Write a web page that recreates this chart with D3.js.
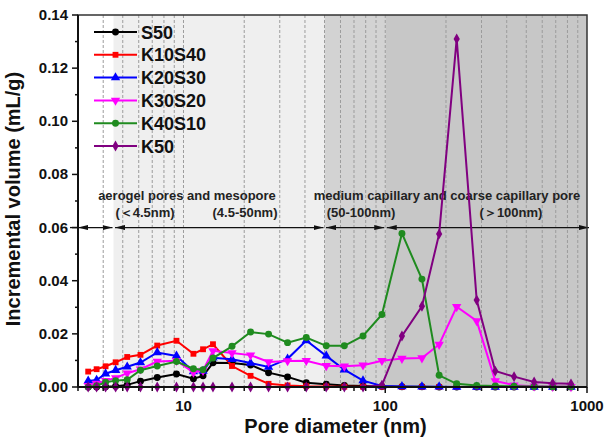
<!DOCTYPE html>
<html><head><meta charset="utf-8">
<script src="https://cdn.jsdelivr.net/npm/d3@7"></script>
<style>body{margin:0;background:#fff}svg{display:block}</style>
</head><body><svg id="c" width="604" height="438"></svg>
<script>
// ---- data ----
const poreDiameter = [3.37,3.71,4.11,4.61,5.26,6.12,7.41,9.23,11.2,12.5,14.0,17.4,21.5,26.4,32.8,40.6,51.0,62.7,77.6,96.3,121,152,185,226,284,351,435,547,676,833];
const S50    = [0,0,0.0001,0.0003,0.0008,0.0022,0.0036,0.0049,0.0031,0.0042,0.0091,0.0090,0.0083,0.0054,0.0038,0.0016,0.0010,0.0006,0.0004,0.0002,0.0001,0.0001,0,0,0,0,0,0,0,0];
const K10S40 = [0.0058,0.0067,0.0078,0.0093,0.0113,0.0121,0.0156,0.0174,0.0125,0.0142,0.0161,0.0079,0.0042,0.0012,0.0006,0.0003,0.0002,0.0001,0.0001,0.0001,0,0,0,0,0,0,0,0,0,0];
const K20S30 = [0.0023,0.0026,0.0050,0.0063,0.0076,0.0092,0.0130,0.0117,0.0058,0.0060,0.0110,0.0104,0.0090,0.0075,0.0106,0.0175,0.0117,0.0065,0.0024,0.0004,0.0002,0.0001,0.0001,0,0,0,0,0,0,0];
const K30S20 = [0.0005,0.0013,0.0024,0.0034,0.0052,0.0067,0.0096,0.0099,0.0055,0.0062,0.0136,0.0128,0.0120,0.0094,0.0098,0.0099,0.0080,0.0078,0.0082,0.0099,0.0107,0.0109,0.0160,0.0302,0.0249,0.0023,0.0007,0.0003,0.0002,0.0001];
const K40S10 = [0,0.0005,0.0018,0.0024,0.0027,0.0063,0.0079,0.0096,0.0069,0.0065,0.0109,0.0153,0.0207,0.0199,0.0167,0.0186,0.0155,0.0155,0.0192,0.0273,0.0578,0.0406,0.0044,0.0012,0.0006,0.0004,0.0003,0.0002,0.0001,0.0001];
const K50    = [0,0,0,0,0,0,0,0,0,0,0,0,0,0,0,0,0,0,0,0.0007,0.0192,0.0304,0.0576,0.1310,0.0327,0.0060,0.0039,0.0019,0.0014,0.0012];
const seriesNames = ["S50","K10S40","K20S30","K30S20","K40S10","K50"];
const seriesValues = [S50,K10S40,K20S30,K30S20,K40S10,K50];
const seriesColors = ["#000000","#ff0000","#0000ff","#ff00ff","#1f8b1f","#800080"];
const seriesSymbols = [d3.symbolCircle,d3.symbolSquare,d3.symbolTriangle,"tri-down",d3.symbolCircle,d3.symbolDiamond];
const yTicks = [0,0.02,0.04,0.06,0.08,0.10,0.12,0.14];
const xTickLabels = [10,100,1000];
const regionBounds = [3,4.5,50,100,1000];
const regionFills = ["#ffffff","#efefef","#d3d3d3","#c7c7c7"];
const regionTexts = [
  {t:"aerogel pores and mesopore", x:187, row:0},
  {t:"(\uFF1C4.5nm)", x:145, row:1},
  {t:"(4.5-50nm)", x:245, row:1},
  {t:"medium capillary and coarse capillary pore", x:447, row:0},
  {t:"(50-100nm)", x:361, row:1},
  {t:"(\uFF1E100nm)", x:511, row:1}
];

// ---- layout ----
const L=78, R=587, T=15, B=387;
const svg = d3.select("#c");
const font = "'Liberation Sans', Arial, sans-serif";
const x = d3.scaleLog().domain([3,1000]).range([L,R]);
const y = d3.scaleLinear().domain([0,0.14]).range([B,T]);

// backgrounds
for (let i=0;i<regionFills.length;i++){
  svg.append("rect").attr("x",x(regionBounds[i])).attr("y",T)
    .attr("width",x(regionBounds[i+1])-x(regionBounds[i])).attr("height",B-T)
    .attr("fill",regionFills[i]);
}
// log grid (dashed)
const logTicks=[];
for (let e=0;e<3;e++) for (let k=1;k<10;k++){ const v=k*Math.pow(10,e); if(v>3 && v<1000) logTicks.push(v);}
svg.append("g").selectAll("line").data(logTicks).join("line")
  .attr("x1",d=>x(d)).attr("x2",d=>x(d)).attr("y1",T).attr("y2",B)
  .attr("stroke","#9c9c9c").attr("stroke-width",1).attr("stroke-dasharray","3,2");

// arrows at 0.06
const defs = svg.append("defs");
defs.append("marker").attr("id","ah").attr("viewBox","0 0 10 5").attr("refX",10).attr("refY",2.5)
  .attr("markerWidth",10).attr("markerHeight",5).attr("markerUnits","userSpaceOnUse").attr("orient","auto-start-reverse")
  .append("path").attr("d","M0,0L10,2.5L0,5Z").attr("fill","#111");
const ya = y(0.06);
for (let i=0;i<regionBounds.length-1;i++){
  const x1 = x(regionBounds[i]) + (i===0?0:1.5), x2 = x(regionBounds[i+1]) - (i===regionBounds.length-2? -2 : 1);
  svg.append("line").attr("x1",x1).attr("x2",x2).attr("y1",ya).attr("y2",ya)
    .attr("stroke","#111").attr("stroke-width",1.3)
    .attr("marker-start","url(#ah)").attr("marker-end","url(#ah)");
}
svg.append("line").attr("x1",L-8).attr("x2",L).attr("y1",ya).attr("y2",ya).attr("stroke","#111").attr("stroke-width",1.3);

// region texts
svg.append("g").selectAll("text").data(regionTexts).join("text")
  .attr("x",d=>d.x).attr("y",d=>d.row===0?199.5:216.5).attr("text-anchor","middle")
  .attr("font-family",font).attr("font-weight","bold").attr("font-size",13).attr("fill","#222")
  .text(d=>d.t);

// series
const line = d3.line().x((d,i)=>x(poreDiameter[i])).y(d=>y(d));
function symPath(s, size){
  if (s==="tri-down") return d3.symbol(d3.symbolTriangle,size)() ;
  return d3.symbol(s,size)();
}
seriesValues.forEach((vals,si)=>{
  const g = svg.append("g");
  g.append("path").attr("d",line(vals)).attr("fill","none").attr("stroke",seriesColors[si]).attr("stroke-width",2);
  const sz = seriesSymbols[si]===d3.symbolSquare?34:(seriesSymbols[si]===d3.symbolDiamond?34:38);
  g.selectAll("path.m").data(vals).join("path").attr("class","m")
    .attr("d",symPath(seriesSymbols[si],sz))
    .attr("transform",(d,i)=>`translate(${x(poreDiameter[i])},${y(d)})`+(seriesSymbols[si]==="tri-down"?" rotate(180)":""))
    .attr("fill",seriesColors[si]);
});

// frame
svg.append("rect").attr("x",L).attr("y",T).attr("width",R-L).attr("height",B-T)
  .attr("fill","none").attr("stroke","#333").attr("stroke-width",1.5);

// y axis
const ya2 = svg.append("g").attr("transform",`translate(${L},0)`);
ya2.append("line").attr("x1",0).attr("x2",0).attr("y1",T).attr("y2",B).attr("stroke","#111").attr("stroke-width",2);
const yMinor = d3.range(1,14,2).map(k=>k*0.01);
ya2.selectAll("line.mn").data(yMinor).join("line").attr("class","mn")
  .attr("x1",-3).attr("x2",0).attr("y1",d=>y(d)).attr("y2",d=>y(d)).attr("stroke","#111").attr("stroke-width",1.5);
ya2.selectAll("line.mj").data(yTicks).join("line").attr("class","mj")
  .attr("x1",-6).attr("x2",0).attr("y1",d=>y(d)).attr("y2",d=>y(d)).attr("stroke","#111").attr("stroke-width",1.5);
ya2.selectAll("text").data(yTicks).join("text")
  .attr("x",-10).attr("y",d=>y(d)+5).attr("text-anchor","end")
  .attr("font-family",font).attr("font-weight","bold").attr("font-size",15).attr("fill","#111")
  .text(d=>d3.format(".2f")(d));

// x axis
const xa = svg.append("g").attr("transform",`translate(0,${B})`);
xa.append("line").attr("x1",L).attr("x2",R).attr("stroke","#111").attr("stroke-width",2);
const xAll = [3].concat(logTicks).concat([1000]);
xa.selectAll("line.t").data(xAll).join("line").attr("class","t")
  .attr("x1",d=>x(d)).attr("x2",d=>x(d)).attr("y1",0).attr("y2",d=>xTickLabels.includes(d)?6:4)
  .attr("stroke","#111").attr("stroke-width",1.5);
xa.selectAll("text").data(xTickLabels).join("text")
  .attr("x",d=>x(d)).attr("y",24).attr("text-anchor","middle")
  .attr("font-family",font).attr("font-weight","bold").attr("font-size",15).attr("fill","#111")
  .text(d=>d);

// axis titles
svg.append("text").attr("x",(L+R)/2+3).attr("y",433).attr("text-anchor","middle")
  .attr("font-family",font).attr("font-weight","bold").attr("font-size",20).attr("fill","#111")
  .text("Pore diameter (nm)");
svg.append("text").attr("transform","translate(20,199) rotate(-90)").attr("text-anchor","middle")
  .attr("font-family",font).attr("font-weight","bold").attr("font-size",20).attr("fill","#111")
  .text("Incremental volume (mL/g)");

// legend
const lg = svg.append("g");
seriesNames.forEach((n,i)=>{
  const ly = 32 + i*22.8;
  lg.append("line").attr("x1",94).attr("x2",137).attr("y1",ly).attr("y2",ly).attr("stroke",seriesColors[i]).attr("stroke-width",2);
  const sz = seriesSymbols[i]===d3.symbolSquare?34:(seriesSymbols[i]===d3.symbolDiamond?34:38);
  lg.append("path").attr("d",symPath(seriesSymbols[i],sz))
    .attr("transform",`translate(115.5,${ly})`+(seriesSymbols[i]==="tri-down"?" rotate(180)":""))
    .attr("fill",seriesColors[i]);
  lg.append("text").attr("x",141).attr("y",ly+6.5).attr("font-family",font).attr("font-weight","bold")
    .attr("font-size",18).attr("fill","#111").text(n);
});
</script></body></html>
